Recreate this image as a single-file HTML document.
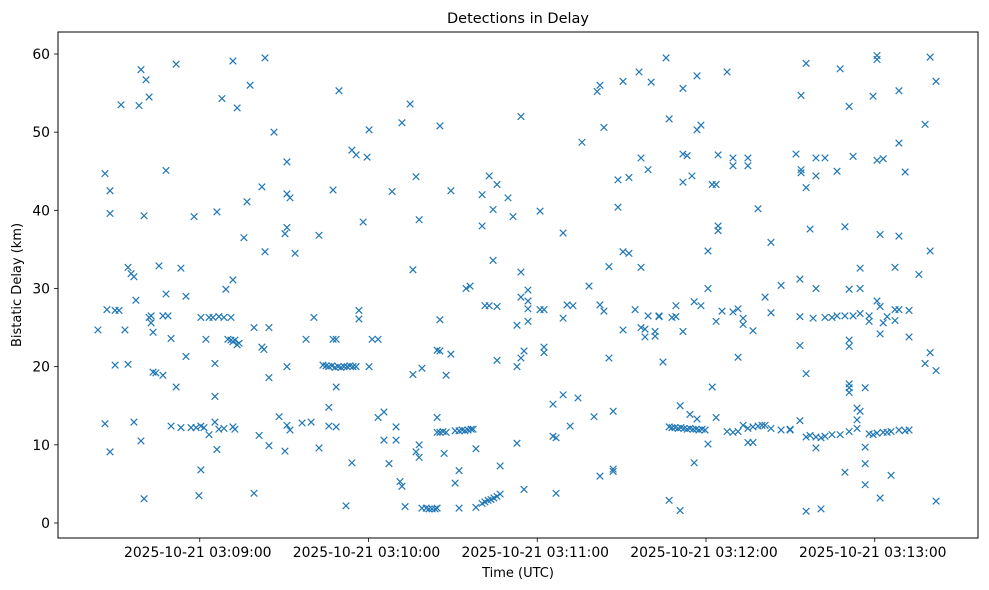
<!DOCTYPE html>
<html>
<head>
<meta charset="utf-8">
<style>
  html,body{margin:0;padding:0;background:#fff;}
  svg{display:block;font-family:"DejaVu Sans","Liberation Sans",sans-serif;}
</style>
</head>
<body>
<svg id="chart" width="989" height="590" viewBox="0 0 989 590">
  <rect x="0" y="0" width="989" height="590" fill="#fff"/>
  <text x="518" y="23" text-anchor="middle" font-size="14.5" fill="#000">Detections in Delay</text>
  <g id="marks"></g>
  <g id="xaxis"></g>
  <g id="yaxis"></g>
  <rect x="58" y="32" width="920" height="506" fill="none" stroke="#000" stroke-width="1"/>
  <text x="518" y="577" text-anchor="middle" font-size="13">Time (UTC)</text>
  <text transform="translate(21,285) rotate(-90)" text-anchor="middle" font-size="13">Bistatic Delay (km)</text>
</svg>
<script>
// seconds since 2025-10-21 03:08:00 UTC
const times = [23.8,26.3,27.0,28.1,29.9,31.3,32.0,33.4,34.5,35.6,36.6,37.3,38.4,39.1,40.2,40.9,42.0,42.7,43.4,44.4,45.5,46.9,48.0,48.7,49.8,51.6,53.3,55.1,56.9,58.0,58.7,59.7,60.4,61.5,62.2,63.3,64.7,65.4,66.1,66.8,67.9,68.6,69.3,70.0,71.1,71.8,72.5,73.3,74.0,75.7,76.8,77.9,79.3,81.1,82.1,82.8,83.2,84.6,86.4,88.2,90.3,91.0,92.1,93.9,96.4,97.8,99.6,100.6,102.4,103.8,104.9,105.9,107.0,107.4,108.1,108.5,109.2,109.5,110.2,111.3,112.0,112.4,113.4,114.1,114.5,115.6,116.6,118.1,119.5,120.2,121.3,123.4,125.5,127.3,128.4,129.8,131.2,131.9,133.0,134.8,135.8,136.9,138.0,139.0,140.5,141.5,142.6,143.7,144.4,145.4,146.5,146.9,147.6,149.3,150.8,152.2,153.3,154.3,154.7,155.4,156.1,156.5,157.2,158.2,160.4,161.4,162.5,162.9,163.6,164.3,164.6,165.7,166.8,169.6,171.4,172.8,174.2,175.3,176.7,181.0,182.4,185.6,186.7,189.2,190.6,191.7,192.7,194.5,195.9,198.4,200.2,201.3,202.3,203.7,205.5,207.0,208.7,210.5,212.6,214.8,216.2,216.9,218.3,219.4,220.5,221.9,223.3,224.7,225.8,226.9,227.9,229.0,229.3,230.1,230.8,231.1,231.8,232.2,233.3,234.3,235.0,235.4,235.8,236.5,236.8,237.5,238.2,238.6,239.7,240.7,242.2,243.6,244.3,245.7,247.5,249.6,251.4,253.2,254.9,256.7,258.5,259.9,261.0,263.1,266.7,269.9,272.0,273.4,273.8,275.6,277.0,278.1,279.1,280.9,282.3,284.8,286.6,287.7,289.4,290.9,292.3,293.7,294.8,296.6,298.0,299.4,300.8,301.9,303.0,304.4,305.8,307.2,308.6,310.8,312.2,315.7,317.9,319.7,321.8];
const delays = [[24.7],[44.7,12.7],[27.3],[42.5,39.6,9.1],[27.2,20.2],[27.2],[53.5],[24.7],[32.7,20.3],[31.9],[12.9,31.5],[28.5],[53.4],[58,10.5],[3.1,39.3],[56.7],[54.5,26.3],[25.6,26.5],[19.3,24.4],[19.2],[32.9],[26.5,18.9],[45.1,29.3],[26.5],[12.4,23.6],[58.7,17.4],[32.6,12.2],[21.3,29],[12.2],[39.2],[12.2],[3.5],[6.8,12.4,26.3],[12.2],[23.5],[11.3,26.3],[26.3],[12.9,16.2,20.4],[39.8,9.4],[12,26.4],[54.3],[12.1,26.3],[29.9],[23.5],[26.3,23.4],[59.1,31.1,23.2,12.3],[23.4,12],[22.8,53.1],[23],[36.5],[41.1],[56],[25,3.8],[11.2],[43,22.5],[22.2],[59.5,34.7],[25,18.6,9.9],[50],[13.6],[37,9.2],[46.2,42.1,37.8,20,12.5],[41.6,11.9],[34.5],[12.8],[23.5],[12.9],[26.3],[36.8,9.6],[20.2],[20.1],[20.0,14.8,12.4],[20.1],[42.6,23.5],[19.9],[23.5,17.4,12.3],[20.0],[55.3],[19.9],[20.0],[2.2],[20.0],[20.1],[47.7,7.7],[20.0],[47.1,20.0],[27.2,26.1],[38.5],[46.8],[50.3,20],[23.5],[13.5,23.5],[10.6,14.2],[7.6],[42.4],[12.3,10.6],[5.3],[51.2,4.7],[2.1],[53.6],[32.4,19],[44.3,9.1],[38.8,10,8.4],[1.9,19.8],[1.9],[1.8],[1.8],[1.8],[1.9,13.5,22.1,11.6],[50.8,26,22,11.6],[11.7],[8.9],[11.6,18.9],[42.5,21.6],[11.8,5.1],[1.9,6.7,11.8],[11.9],[11.8],[30],[11.9],[30.3],[12.0],[12.0],[2,9.5],[2.5,38,42],[2.7,27.8],[2.9],[44.4,27.8],[3.0],[40.1,33.6],[3.2],[3.4,20.8,43.3,27.7],[3.7,7.3],[41.6],[39.2],[20,25.3,10.2],[52,32.1,21.1,28.9],[4.3,22],[28.4,29.8,27.4,25.8],[39.9,27.3],[27.3,21.8,22.5],[15.2,11.1],[10.9,3.8],[37.1,16.4,26.2],[27.9],[12.4],[27.8],[16],[48.7],[30.3],[13.6],[55.2],[27.9,6,56],[50.6,27.1],[32.8,21.1],[6.9,14.3,6.6],[40.4,43.9],[56.5,34.7,24.7],[44.2,34.5],[27.3],[57.7],[46.7,32.7,25],[23.8,24.8],[45.2,26.5],[56.4],[23.9,24.5],[26.4,26.5],[20.6],[59.5],[2.9,51.7,12.3],[12.2,26.3],[12.2],[27.8,26.4],[12.1],[1.6,15],[12.2],[47.2,55.6,24.5,43.6],[12.1],[47,12.0],[13.9,12.1],[44.4],[12.0],[28.3,7.7],[12.0],[57.2,50.3,13.3],[11.9],[50.9,27.8],[12.0],[11.9],[10.1,30,34.8],[43.3,17.4],[43.3,25.8,13.5],[47.1,37.4,38],[27.1],[11.7,57.7],[27,46.7,45.7,11.6],[21.2,27.4,11.7],[12.5,25.4,26.2],[10.3,12.1,46.7,45.7],[24.6,10.3,12.3],[40.2,12.4],[12.5],[12.5,28.9],[35.9,26.9,12.1],[30.4,11.9],[12,11.9],[47.2],[22.7,31.2,26.4,13.1],[44.8,54.7,45.2],[42.9,58.8,19.1,1.5,11],[37.6,11.2],[26.2],[44.4,46.7,30,9.6,11],[1.8,10.9],[46.7,26.3,11.1],[26.3,11.3],[45,26.5],[58.1,11.3],[37.9,26.5,6.5],[22.6,23.4,29.9,53.3,17.3,16.7,17.8,11.7],[46.9,26.5],[12.1,13.2,14.7],[32.6,30,26.8,14.3],[17.3,9.7,7.6,4.9],[26.5,25.8,11.4],[54.6,11.3],[59.8,59.3,46.4,28.4,11.5],[36.9,24.2,3.2,27.7],[46.6,25.6,11.6],[26.4,11.6],[6.1,11.7],[32.7,25.9,27.3],[48.6,36.7,27.3,55.3,11.9],[44.9,11.8],[11.9,23.8,27.2],[31.8],[20.4,51],[59.6,34.8,21.8],[56.5,2.8,19.5]];
const xTickSeconds = [60,120,180,240,300];
const xTickLabels = ["2025-10-21 03:09:00","2025-10-21 03:10:00","2025-10-21 03:11:00","2025-10-21 03:12:00","2025-10-21 03:13:00"];
const yTicks = [0,10,20,30,40,50,60];

const NS = "http://www.w3.org/2000/svg";
function xScale(s){ return 31 + s*2.8125; }
function yScale(v){ return 523 - v*7.817; }
function mk(tag, attrs){ const e=document.createElementNS(NS,tag); for(const k in attrs) e.setAttribute(k,attrs[k]); return e; }

const marks = document.getElementById('marks');
times.forEach((t,i)=>{
  delays[i].forEach(v=>{
    const cx=xScale(t), cy=yScale(v), r=3.3;
    const p = mk('path',{d:`M${cx-r},${cy-r}L${cx+r},${cy+r}M${cx-r},${cy+r}L${cx+r},${cy-r}`,stroke:'#1f77b4','stroke-width':'1.2',fill:'none'});
    
    
    marks.appendChild(p);
  });
});

const xa = document.getElementById('xaxis');
xTickSeconds.forEach((s,i)=>{
  const x = xScale(s);
  const l = mk('line',{x1:x,x2:x,y1:538,y2:542,stroke:'#000','stroke-width':'0.8'});
  
  
  xa.appendChild(l);
  const tx = mk('text',{x:x-2,y:557,'text-anchor':'middle','font-size':'13.9'});
  tx.textContent = xTickLabels[i];
  
  
  xa.appendChild(tx);
});
const ya = document.getElementById('yaxis');
yTicks.forEach(v=>{
  const y = yScale(v);
  const l = mk('line',{x1:54,x2:58,y1:y,y2:y,stroke:'#000','stroke-width':'0.8'});
  
  
  ya.appendChild(l);
  const tx = mk('text',{x:50,y:y+5,'text-anchor':'end','font-size':'13.9'});
  tx.textContent = String(v);
  
  
  ya.appendChild(tx);
});
</script>
</body>
</html>
